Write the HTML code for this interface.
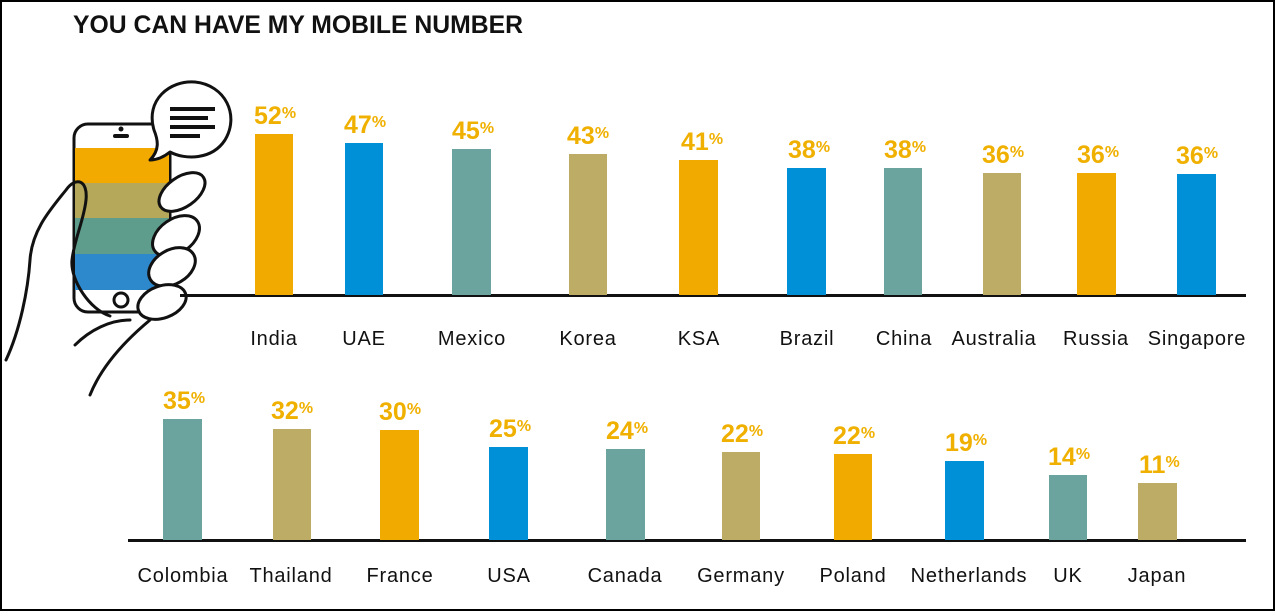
<!DOCTYPE html>
<html><head><meta charset="utf-8"><style>
body{margin:0;background:#fff}
svg text{font-family:"Liberation Sans",Arial,sans-serif}
</style></head><body>
<svg width="1275" height="611" viewBox="0 0 1275 611" xmlns="http://www.w3.org/2000/svg">
<rect x="1" y="1" width="1273" height="609" fill="#fff" stroke="#000" stroke-width="2"/>
<text x="73" y="33" font-size="25" font-weight="bold" fill="#111" textLength="450" lengthAdjust="spacingAndGlyphs">YOU CAN HAVE MY MOBILE NUMBER</text>
<!-- phone illustration -->
<g stroke="#111" stroke-width="3" fill="none" stroke-linecap="round" stroke-linejoin="round">
<rect x="74" y="124" width="96" height="188" rx="14" fill="#fff"/>
</g>
<rect x="75" y="148" width="94" height="35" fill="#f2aa00"/>
<rect x="75" y="183" width="94" height="35" fill="#b5a85a"/>
<rect x="75" y="218" width="94" height="36" fill="#5e9c8c"/>
<rect x="75" y="254" width="94" height="36" fill="#2e89cc"/>
<circle cx="121" cy="129" r="2.5" fill="#111"/>
<rect x="113" y="134" width="16" height="4" rx="2" fill="#111"/>
<circle cx="121" cy="300" r="7" fill="none" stroke="#111" stroke-width="3"/>
<g stroke="#111" stroke-width="3" fill="#fff" stroke-linejoin="round">
<path d="M150 160 C160 150 158 140 154 130 C145 100 170 80 195 82 C225 85 240 115 225 140 C212 160 185 160 170 152 C165 156 158 160 150 160 Z"/>
<ellipse cx="182" cy="192" rx="26" ry="15" transform="rotate(-35 182 192)"/>
<ellipse cx="176" cy="236" rx="26" ry="17" transform="rotate(-35 176 236)"/>
<ellipse cx="172" cy="267" rx="25" ry="17" transform="rotate(-30 172 267)"/>
<ellipse cx="162" cy="302" rx="25" ry="16" transform="rotate(-20 162 302)"/>
</g>
<g stroke="#111" stroke-width="3" fill="none" stroke-linecap="round">
<path d="M6 360 C20 330 28 290 30 260 C32 230 50 210 66 190 C76 176 88 180 86 200 C84 220 74 240 72 260 C70 280 90 310 110 316"/>
<path d="M75 345 C90 330 110 320 130 320"/>
<path d="M90 395 C100 370 120 345 150 320"/>
</g>
<g fill="#111">
<rect x="170" y="107" width="45" height="4"/>
<rect x="170" y="116" width="38" height="4"/>
<rect x="170" y="125" width="45" height="4"/>
<rect x="170" y="134" width="30" height="4"/>
</g>
<!-- axes -->
<rect x="180" y="294" width="1066" height="3" fill="#111"/>
<rect x="128" y="539" width="1118" height="3" fill="#111"/>
<g font-size="20" fill="#111" text-anchor="middle" letter-spacing="0.8">
<text x="274" y="345">India</text><text x="364" y="345">UAE</text><text x="472" y="345">Mexico</text><text x="588" y="345">Korea</text><text x="699" y="345">KSA</text><text x="807" y="345">Brazil</text><text x="904" y="345">China</text><text x="994" y="345">Australia</text><text x="1096" y="345">Russia</text><text x="1197" y="345">Singapore</text>
<text x="183" y="582">Colombia</text><text x="291" y="582">Thailand</text><text x="400" y="582">France</text><text x="509" y="582">USA</text><text x="625" y="582">Canada</text><text x="741" y="582">Germany</text><text x="853" y="582">Poland</text><text x="969" y="582">Netherlands</text><text x="1068" y="582">UK</text><text x="1157" y="582">Japan</text>
</g>
<g>
<rect x="255" y="134" width="38" height="161" fill="#f0aa00"/>
<rect x="345" y="143" width="38" height="152" fill="#0090d8"/>
<rect x="452" y="149" width="39" height="146" fill="#6ba39e"/>
<rect x="569" y="154" width="38" height="141" fill="#bcac66"/>
<rect x="679" y="160" width="39" height="135" fill="#f0aa00"/>
<rect x="787" y="168" width="39" height="127" fill="#0090d8"/>
<rect x="884" y="168" width="38" height="127" fill="#6ba39e"/>
<rect x="983" y="173" width="38" height="122" fill="#bcac66"/>
<rect x="1077" y="173" width="39" height="122" fill="#f0aa00"/>
<rect x="1177" y="174" width="39" height="121" fill="#0090d8"/>
<rect x="163" y="419" width="39" height="121" fill="#6ba39e"/>
<rect x="273" y="429" width="38" height="111" fill="#bcac66"/>
<rect x="380" y="430" width="39" height="110" fill="#f0aa00"/>
<rect x="489" y="447" width="39" height="93" fill="#0090d8"/>
<rect x="606" y="449" width="39" height="91" fill="#6ba39e"/>
<rect x="722" y="452" width="38" height="88" fill="#bcac66"/>
<rect x="834" y="454" width="38" height="86" fill="#f0aa00"/>
<rect x="945" y="461" width="39" height="79" fill="#0090d8"/>
<rect x="1049" y="475" width="38" height="65" fill="#6ba39e"/>
<rect x="1138" y="483" width="39" height="57" fill="#bcac66"/>
</g>
<g font-size="25" font-weight="bold" fill="#f0b000">
<text x="254" y="124">52<tspan font-size="16" dy="-6">%</tspan></text>
<text x="344" y="133">47<tspan font-size="16" dy="-6">%</tspan></text>
<text x="452" y="139">45<tspan font-size="16" dy="-6">%</tspan></text>
<text x="567" y="144">43<tspan font-size="16" dy="-6">%</tspan></text>
<text x="681" y="150">41<tspan font-size="16" dy="-6">%</tspan></text>
<text x="788" y="158">38<tspan font-size="16" dy="-6">%</tspan></text>
<text x="884" y="158">38<tspan font-size="16" dy="-6">%</tspan></text>
<text x="982" y="163">36<tspan font-size="16" dy="-6">%</tspan></text>
<text x="1077" y="163">36<tspan font-size="16" dy="-6">%</tspan></text>
<text x="1176" y="164">36<tspan font-size="16" dy="-6">%</tspan></text>
<text x="163" y="409">35<tspan font-size="16" dy="-6">%</tspan></text>
<text x="271" y="419">32<tspan font-size="16" dy="-6">%</tspan></text>
<text x="379" y="420">30<tspan font-size="16" dy="-6">%</tspan></text>
<text x="489" y="437">25<tspan font-size="16" dy="-6">%</tspan></text>
<text x="606" y="439">24<tspan font-size="16" dy="-6">%</tspan></text>
<text x="721" y="442">22<tspan font-size="16" dy="-6">%</tspan></text>
<text x="833" y="444">22<tspan font-size="16" dy="-6">%</tspan></text>
<text x="945" y="451">19<tspan font-size="16" dy="-6">%</tspan></text>
<text x="1048" y="465">14<tspan font-size="16" dy="-6">%</tspan></text>
<text x="1139" y="473">11<tspan font-size="16" dy="-6">%</tspan></text>
</g>
</svg>
</body></html>
